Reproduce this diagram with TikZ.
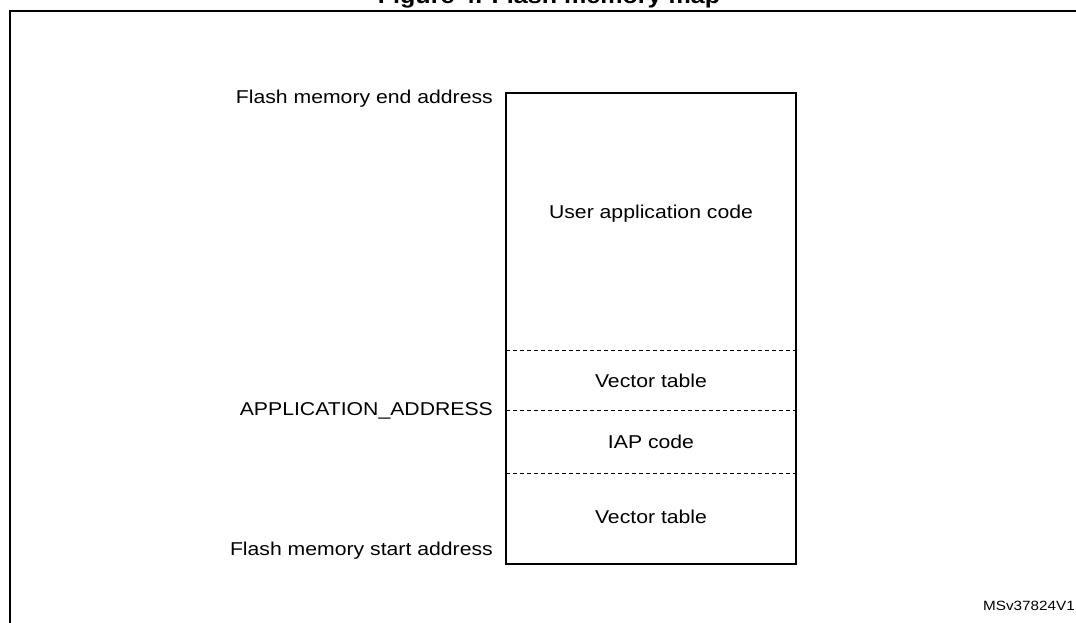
\documentclass[tikz,border=0pt]{standalone}
\usepackage{fontspec}
\setmainfont{Liberation Sans}[FakeStretch=1.14]
\begin{document}
\begin{tikzpicture}[x=1pt,y=-1pt,
  lbl/.style={inner sep=0pt,font=\fontsize{18.6}{20}\selectfont},
  sep/.style={dashed,dash pattern=on 4pt off 3pt,line width=1pt},
  frame/.style={line width=2pt}]
\useasboundingbox (0,0) rectangle (1076,623);
% outer frame (partly off-page)
\draw[frame] (10,640) -- (10,11) -- (1090,11);
\node[inner sep=0pt,anchor=base,font=\bfseries\fontsize{22}{24}\selectfont] (title) at (549,4) {Figure 4. Flash memory map};
% memory box
\draw[frame] (506,93) rectangle (796,564);
\coordinate (l1) at (506,350); \coordinate (r1) at (796,350);
\coordinate (l2) at (506,410); \coordinate (r2) at (796,410);
\coordinate (l3) at (506,473); \coordinate (r3) at (796,473);
\draw[sep] (l1) -- (r1);
\draw[sep] (l2) -- (r2);
\draw[sep] (l3) -- (r3);
\node[lbl] (uac) at (651,214) {User application code};
\node[lbl] (vt1) at (651,381) {Vector table};
\node[lbl] (iap) at (651,442) {IAP code};
\node[lbl] (vt2) at (651,517) {Vector table};
\node[lbl,anchor=east] (endaddr) at (493,99) {Flash memory end address};
\node[lbl,anchor=east] (appaddr) at (493,411) {APPLICATION\_ADDRESS};
\node[lbl,anchor=east] (startaddr) at (493,551) {Flash memory start address};
\node[inner sep=0pt,anchor=east,font=\fontsize{13.4}{14}\selectfont] (id) at (1075,606) {MSv37824V1};
\end{tikzpicture}
\end{document}
